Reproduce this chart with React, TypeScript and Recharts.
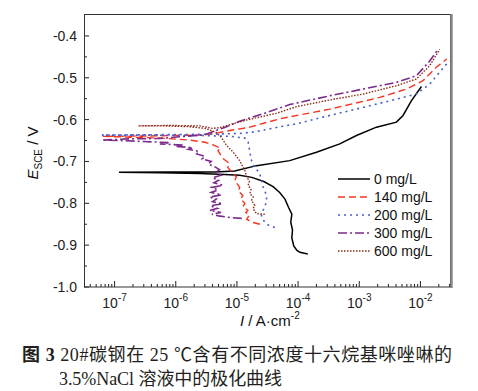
import React from "react";
import { LineChart, Line, XAxis, YAxis } from "recharts";

// Polarization curves: [current density (A/cm²), potential (V vs SCE)]
// each list follows the sweep: cathodic branch -> Ecorr spike -> anodic branch
const curve0: [number, number][] = [
  [1.44e-4, -0.921], [1.07e-4, -0.917], [9.5e-5, -0.912], [8.5e-5, -0.902], [7.9e-5, -0.883],
  [8.1e-5, -0.864], [7.6e-5, -0.845], [7.9e-5, -0.826], [7.0e-5, -0.81], [6.1e-5, -0.79],
  [5.0e-5, -0.774], [3.9e-5, -0.76], [2.75e-5, -0.748], [1.75e-5, -0.738], [1.11e-5, -0.733],
  [6.3e-6, -0.731], [2.5e-6, -0.729], [5.5e-7, -0.727], [1.18e-7, -0.726], [8e-7, -0.725],
  [4.35e-6, -0.725], [9.2e-6, -0.723], [2.1e-5, -0.71], [7.3e-5, -0.698], [2.0e-4, -0.678],
  [4.8e-4, -0.658], [9.0e-4, -0.638], [1.91e-3, -0.618], [4.05e-3, -0.606], [5.2e-3, -0.59],
  [7.1e-3, -0.555], [1.04e-2, -0.521],
];

const curve140: [number, number][] = [
  [2.37e-5, -0.85], [1.75e-5, -0.845], [1.45e-5, -0.838], [1.6e-5, -0.828], [1.4e-5, -0.822],
  [1.51e-5, -0.817], [1.25e-5, -0.808], [1.35e-5, -0.8], [1.15e-5, -0.79], [1.25e-5, -0.781],
  [1.05e-5, -0.771], [1.11e-5, -0.762], [9.2e-6, -0.745], [9.8e-6, -0.737], [8.6e-6, -0.729],
  [7.1e-6, -0.714], [7.6e-6, -0.705], [5.9e-6, -0.693], [4.9e-6, -0.674], [5.4e-6, -0.668],
  [4.0e-6, -0.66], [3.0e-6, -0.654], [1.7e-6, -0.649], [5.5e-7, -0.644], [1.78e-7, -0.642],
  [6.4e-8, -0.64], [3.8e-7, -0.639], [2.5e-6, -0.637], [4.35e-6, -0.633], [7.7e-6, -0.626],
  [1.63e-5, -0.618], [5.0e-5, -0.598], [3.3e-4, -0.575], [2.16e-3, -0.547], [5.9e-3, -0.527],
  [1.1e-2, -0.507], [1.82e-2, -0.475], [2.7e-2, -0.455],
];

const curve200: [number, number][] = [
  [4.16e-5, -0.858], [3.24e-5, -0.852], [2.68e-5, -0.84], [2.52e-5, -0.829], [2.68e-5, -0.817],
  [3.05e-5, -0.797], [3.05e-5, -0.781], [2.68e-5, -0.761], [2.52e-5, -0.745], [2.31e-5, -0.725],
  [1.96e-5, -0.717], [1.73e-5, -0.698], [1.63e-5, -0.678], [1.53e-5, -0.654], [1.35e-5, -0.644],
  [7.7e-6, -0.64], [2.5e-6, -0.638], [3.8e-7, -0.637], [6.2e-8, -0.637], [5.5e-7, -0.636],
  [3.6e-6, -0.635], [1.11e-5, -0.633], [1.84e-5, -0.63], [4.7e-5, -0.618], [9.4e-5, -0.61],
  [3.3e-4, -0.59], [1.49e-3, -0.567], [4.05e-3, -0.551], [8.6e-3, -0.539], [1.42e-2, -0.515],
  [2.53e-2, -0.471], [3.0e-2, -0.46],
];

const curve300: [number, number][] = [
  [1.2e-5, -0.836], [7.7e-6, -0.834], [5.0e-6, -0.83], [3.9e-6, -0.826], [5.5e-6, -0.822],
  [3.6e-6, -0.817], [4.8e-6, -0.812], [3.7e-6, -0.806], [5.8e-6, -0.801], [4.0e-6, -0.796],
  [4.6e-6, -0.79], [3.6e-6, -0.785], [5.6e-6, -0.78], [3.8e-6, -0.774], [4.9e-6, -0.768],
  [3.9e-6, -0.762], [5.9e-6, -0.757], [4.2e-6, -0.751], [5.0e-6, -0.745], [4.0e-6, -0.739],
  [5.5e-6, -0.733], [4.3e-6, -0.727], [5.2e-6, -0.72], [4.4e-6, -0.713], [3.4e-6, -0.706],
  [3.8e-6, -0.7], [2.7e-6, -0.694], [3.0e-6, -0.688], [2.2e-6, -0.682], [2.4e-6, -0.676],
  [1.6e-6, -0.671], [1.9e-6, -0.667], [1.0e-6, -0.664], [1.3e-6, -0.661], [5.5e-7, -0.658],
  [8.0e-7, -0.655], [2.6e-7, -0.652], [1.22e-7, -0.65], [6.2e-8, -0.649], [1.78e-7, -0.646],
  [5.5e-7, -0.645], [1.41e-6, -0.64], [3.0e-6, -0.636], [4.0e-6, -0.629], [6.3e-6, -0.619],
  [1.11e-5, -0.604], [2.68e-5, -0.586], [7.3e-5, -0.564], [3.3e-4, -0.543], [1.15e-3, -0.527],
  [4.05e-3, -0.511], [8.6e-3, -0.495], [1.42e-2, -0.46], [1.94e-2, -0.432],
];

const curve600: [number, number][] = [
  [2.86e-5, -0.826], [2.09e-5, -0.825], [1.84e-5, -0.813], [1.95e-5, -0.805], [1.73e-5, -0.793],
  [1.85e-5, -0.785], [1.63e-5, -0.777], [1.7e-5, -0.767], [1.53e-5, -0.757], [1.6e-5, -0.747],
  [1.44e-5, -0.737], [1.35e-5, -0.721], [1.2e-5, -0.708], [1.11e-5, -0.698], [8.7e-6, -0.678],
  [6.8e-6, -0.662], [5.6e-6, -0.643], [4.5e-6, -0.63], [3.0e-6, -0.621], [1.7e-6, -0.617],
  [6.6e-7, -0.615], [2.43e-7, -0.615], [8.0e-7, -0.614], [2.5e-6, -0.615], [4.0e-6, -0.621],
  [5.3e-6, -0.619], [8.6e-6, -0.61], [1.44e-5, -0.601], [4.4e-5, -0.585], [9.4e-5, -0.569],
  [3.3e-4, -0.553], [1.15e-3, -0.539], [4.05e-3, -0.519], [8.6e-3, -0.503], [1.42e-2, -0.471],
  [2.07e-2, -0.432],
];

const seriesNames = ["0 mg/L", "140 mg/L", "200 mg/L", "300 mg/L", "600 mg/L"];
const seriesColors = ["#000000", "#f5341f", "#4a5fc9", "#7a2b8c", "#8c2a17"];
const seriesDashes = ["", "7 4", "2 4", "9 3 2 3", "1.5 1.5"];
const seriesWidths = [1.5, 1.4, 1.6, 1.6, 1.4];
const curves = [curve0, curve140, curve200, curve300, curve600];

const xMajorTicks = [1e-7, 1e-6, 1e-5, 1e-4, 1e-3, 1e-2];
const xDomain = [Math.pow(10, -7.5), Math.pow(10, -1.5)];
const yMajorTicks = [-1.0, -0.9, -0.8, -0.7, -0.6, -0.5, -0.4];
const yMinorTicks = [-0.95, -0.85, -0.75, -0.65, -0.55, -0.45];

// minor log ticks 2..9 per decade that fall inside the domain
const xMinorTicks: number[] = [];
for (let e = -8; e <= -2; e++) {
  for (let k = 2; k <= 9; k++) {
    const v = k * Math.pow(10, e);
    if (v > xDomain[0] && v < xDomain[1]) xMinorTicks.push(v);
  }
}
const xTicks = [...xMajorTicks, ...xMinorTicks].sort((a, b) => a - b);
const yTicks = [...yMajorTicks, ...yMinorTicks].sort((a, b) => a - b);

const W = 478;
const CH = 330;
const PL = 84;
const PT = 15;
const PR = 451;
const PB = 287;
const FONT = "'Liberation Sans', Arial, sans-serif";

const XTick = (props: any) => {
  const { x, payload } = props;
  const lg = Math.log10(payload.value);
  const exp = Math.round(lg);
  const major = Math.abs(lg - exp) < 1e-6;
  return (
    <g>
      <line x1={x} x2={x} y1={PB} y2={PB - (major ? 6 : 3)} stroke="#222" strokeWidth={1} />
      {major && (
        <text x={x} y={PB + 21} textAnchor="middle" fontSize={14} fontFamily={FONT} fill="#222">
          10
          <tspan dy={-7} fontSize={10}>{`${exp}`}</tspan>
        </text>
      )}
    </g>
  );
};

const YTick = (props: any) => {
  const { y, payload } = props;
  const v = payload.value as number;
  const major = Math.abs(v * 10 - Math.round(v * 10)) < 1e-6;
  return (
    <g>
      <line x1={PL} x2={PL + (major ? 5 : 3)} y1={y} y2={y} stroke="#222" strokeWidth={1} />
      {major && (
        <text x={PL - 7} y={y + 5} textAnchor="end" fontSize={14} fontFamily={FONT} fill="#222">
          {v.toFixed(1)}
        </text>
      )}
    </g>
  );
};

export default function App() {
  const series = curves.map((c) => c.map(([x, y]) => ({ x, y })));

  return (
    <div style={{ position: "absolute", left: 0, top: 0, width: W, height: 391, background: "#fff" }}>
      <div style={{ position: "absolute", left: 0, top: 0 }}>
        <LineChart width={W} height={CH} margin={{ top: PT, right: W - PR, left: 0, bottom: 0 }}>
          <XAxis
            type="number"
            dataKey="x"
            scale="log"
            domain={xDomain}
            allowDataOverflow
            ticks={xTicks}
            interval={0}
            tick={<XTick />}
            tickLine={false}
            axisLine={false}
            height={CH - PB}
          />
          <YAxis
            type="number"
            dataKey="y"
            domain={[-1.0, -0.35]}
            allowDataOverflow
            ticks={yTicks}
            interval={0}
            tick={<YTick />}
            tickLine={false}
            axisLine={false}
            width={PL}
          />
          {series.map((d, i) => (
            <Line
              key={seriesNames[i]}
              data={d}
              dataKey="y"
              name={seriesNames[i]}
              type="linear"
              stroke={seriesColors[i]}
              strokeWidth={seriesWidths[i]}
              strokeDasharray={seriesDashes[i] || undefined}
              dot={false}
              activeDot={false}
              isAnimationActive={false}
            />
          ))}
        </LineChart>
      </div>
      <svg
        width={W}
        height={391}
        style={{ position: "absolute", left: 0, top: 0, pointerEvents: "none" }}
      >
        {/* frame */}
        <rect x={PL + 0.5} y={PT - 0.5} width={PR - PL - 1} height={PB - PT + 0.5} fill="none" stroke="#333" strokeWidth={1} />
        <line x1={PR + 0.5} x2={PR + 0.5} y1={PT - 1} y2={PB + 1} stroke="#888" strokeWidth={2.5} />

        {/* legend */}
        {seriesNames.map((n, i) => {
          const y = 179 + i * 18;
          return (
            <g key={n}>
              <line
                x1={338}
                x2={370}
                y1={y}
                y2={y}
                stroke={seriesColors[i]}
                strokeWidth={seriesWidths[i]}
                strokeDasharray={seriesDashes[i] || undefined}
              />
              <text x={374} y={y + 5} fontSize={14} fontFamily={FONT} fill="#111">
                {n}
              </text>
            </g>
          );
        })}

        {/* axis titles */}
        <text transform="translate(38,153) rotate(-90)" textAnchor="middle" fontSize={15} fontFamily={FONT} fill="#111">
          <tspan fontStyle="italic">E</tspan>
          <tspan fontSize={10} dy={4}>SCE</tspan>
          <tspan dy={-4}> / V</tspan>
        </text>
        <text x={240} y={326} fontSize={15} fontFamily={FONT} fill="#111">
          <tspan fontStyle="italic">I</tspan>
          <tspan> / A·cm</tspan>
          <tspan fontSize={10} dy={-7}>-2</tspan>
        </text>

        {/* caption */}
        <text
          x={22}
          y={361}
          fontSize={18}
          fontFamily="'Liberation Serif', 'Noto Sans CJK SC', serif"
          fill="#231f20"
          textLength={430}
          lengthAdjust="spacing"
        >
          <tspan fontWeight="bold">图 3</tspan> 20#碳钢在 25 ℃含有不同浓度十六烷基咪唑啉的
        </text>
        <text
          x={59}
          y={385}
          fontSize={18}
          fontFamily="'Liberation Serif', 'Noto Sans CJK SC', serif"
          fill="#231f20"
          textLength={223}
          lengthAdjust="spacing"
        >
          3.5%NaCl 溶液中的极化曲线
        </text>
      </svg>
    </div>
  );
}
